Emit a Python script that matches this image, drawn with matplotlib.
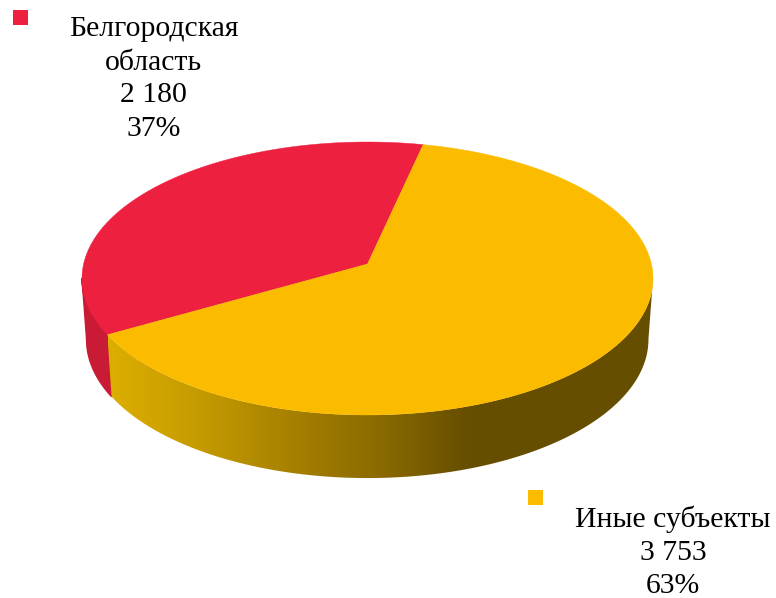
import numpy as np
import matplotlib
matplotlib.use("Agg")
import matplotlib.pyplot as plt
from matplotlib.colors import LinearSegmentedColormap
from matplotlib.patches import Polygon, Rectangle

plt.rcParams['font.family'] = ['Liberation Serif', 'DejaVu Serif']

categories = ["Белгородская\nобласть", "Иные субъекты"]
values = [2180, 3753]
value_labels = ["2 180", "3 753"]
percent_labels = ["37%", "63%"]
colors = ["#EE2040", "#FBBC00"]

# pixel geometry of the tilted disc
cx, cy = 367.5, 278.5
radiusX, radiusY = 283.9, 136.5
tilt = 0.106
startAngle = 77.5


def project(theta, scaleX=1.0, scaleY=1.0, shift=0.0):
    # circle -> perspective ellipse, theta in degrees
    u = np.cos(np.radians(theta))
    v = np.sin(np.radians(theta))
    w = 1 + tilt*v
    x = radiusX*u/w
    y = (radiusY*v + tilt*radiusY)/w
    return np.column_stack([cx + scaleX*x, cy + shift - scaleY*y])


fig = plt.figure(figsize=(7.76, 5.98), dpi=100)
ax = fig.add_axes([0, 0, 1, 1])
ax.set_xlim(0, 776)
ax.set_ylim(598, 0)
ax.axis("off")

angles = startAngle + 360*np.concatenate([[0], np.cumsum(values)])/np.sum(values)
thetaRed0, thetaRed1, thetaYellow1 = angles

# side wall, lower rim is a bit narrower
wallScaleX = 0.984
wallScaleY = 1.015
wallShift = 61
tangentLeft = 186
tangentRight = 354

t = np.linspace(tangentLeft, thetaRed1, 40)
ax.fill(
    *np.vstack([project(t), project(t[::-1], wallScaleX, wallScaleY, wallShift)]).T,
    color="#C91A36",
    zorder=1
)

t = np.linspace(thetaRed1, tangentRight, 200)
wall = np.vstack([project(t), project(t[::-1], wallScaleX, wallScaleY, wallShift)])
wallPatch = Polygon(wall, closed=True, facecolor="none", edgecolor="none", transform=ax.transData)
ax.add_patch(wallPatch)

gradient = LinearSegmentedColormap.from_list(
    "wall",
    [(0.0, "#DCAE00"), (0.17, "#C49A00"), (0.35, "#A47E00"), (0.5, "#8A6A00"), (0.66, "#664E00"), (1.0, "#664E00")]
)
image = ax.imshow(
    np.linspace(0, 1, 400).reshape(1, -1),
    cmap=gradient,
    extent=(108, 655, 500, 250),
    aspect="auto",
    zorder=1
)
image.set_clip_path(wallPatch)
ax.set_xlim(0, 776)
ax.set_ylim(598, 0)

# top surface
apex = np.array([[cx, cy - tilt*radiusY]])
for i in range(len(values)):
    t = np.linspace(angles[i], angles[i + 1], 300)
    ax.fill(
        *np.vstack([apex, project(t)]).T,
        color=colors[i],
        linewidth=0.3,
        zorder=2
    )

# labels with their square keys
keyPositions = [(13, 10), (528, 490)]
labelPositions = [(153.5, 79), (673, 552.5)]
for i in range(len(values)):
    ax.add_patch(Rectangle(keyPositions[i], 15, 15, color=colors[i], linewidth=0, zorder=3))
    ax.text(
        labelPositions[i][0],
        labelPositions[i][1],
        categories[i] + "\n" + value_labels[i] + "\n" + percent_labels[i],
        ha="center",
        va="center",
        fontsize=21.4,
        linespacing=1.35,
        color="black",
        zorder=4
    )

fig.savefig("out.png", dpi=100)
